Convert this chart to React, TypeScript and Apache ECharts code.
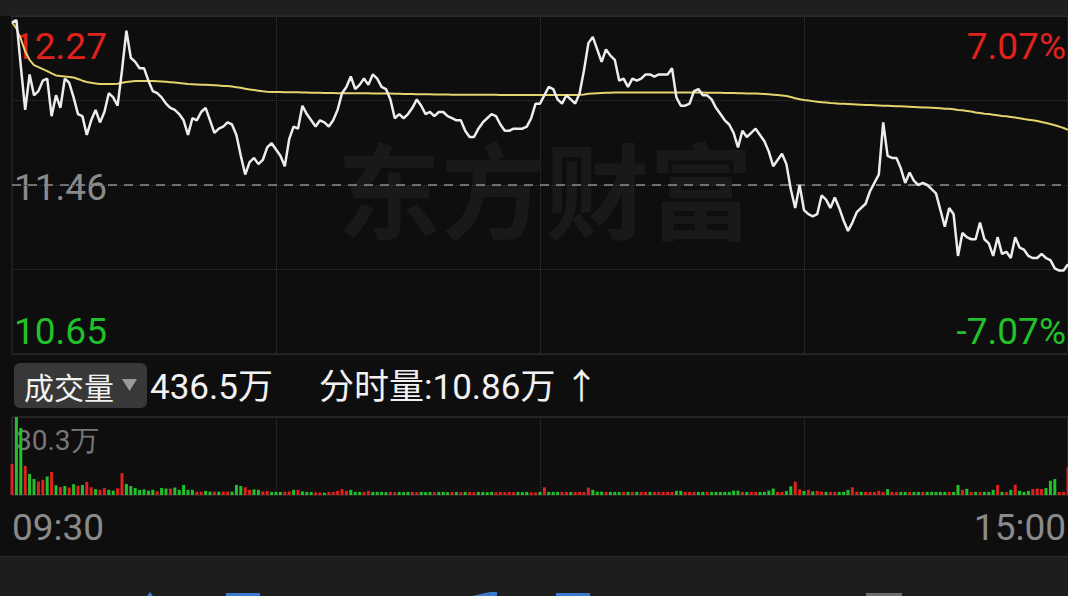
import React, { useEffect, useRef } from 'react';
import * as echarts from 'echarts';

// ---------- data ----------
const prices: number[] = [
  12.24, 12.25, 12.03, 11.82, 11.99, 11.89, 11.91, 11.96, 11.97, 11.79,
  11.89, 11.83, 11.97, 11.95, 11.88, 11.80, 11.79, 11.70, 11.77, 11.82,
  11.76, 11.81, 11.90, 11.88, 11.84, 12.01, 12.20, 12.07, 12.05, 12.02,
  12.02, 11.96, 11.91, 11.90, 11.88, 11.85, 11.83, 11.82, 11.80, 11.77,
  11.70, 11.78, 11.77, 11.81, 11.83, 11.77, 11.71, 11.73, 11.74, 11.76,
  11.75, 11.70, 11.60, 11.51, 11.57, 11.59, 11.56, 11.58, 11.64, 11.66,
  11.63, 11.60, 11.55, 11.68, 11.74, 11.73, 11.84, 11.80, 11.77, 11.74,
  11.77, 11.76, 11.74, 11.77, 11.82, 11.90, 11.93, 11.98, 11.92, 11.94,
  11.97, 11.94, 11.99, 11.97, 11.93, 11.92, 11.87, 11.78, 11.80, 11.78,
  11.80, 11.83, 11.87, 11.84, 11.80, 11.81, 11.79, 11.81, 11.81, 11.79,
  11.78, 11.77, 11.77, 11.72, 11.69, 11.69, 11.73, 11.76, 11.78, 11.80,
  11.79, 11.75, 11.72, 11.72, 11.73, 11.73, 11.73, 11.74, 11.78, 11.85,
  11.85, 11.89, 11.93, 11.92, 11.87, 11.85, 11.89, 11.87, 11.85, 11.90,
  12.01, 12.14, 12.17, 12.11, 12.05, 12.11, 12.08, 12.06, 11.96, 11.97,
  11.93, 11.97, 11.96, 11.97, 11.99, 11.99, 11.98, 11.99, 11.99, 11.99,
  12.02, 11.88, 11.84, 11.84, 11.85, 11.91, 11.92, 11.89, 11.89, 11.87,
  11.83, 11.80, 11.77, 11.75, 11.71, 11.64, 11.72, 11.69, 11.71, 11.73,
  11.70, 11.67, 11.62, 11.55, 11.58, 11.61, 11.56, 11.44, 11.35, 11.46,
  11.34, 11.32, 11.31, 11.32, 11.41, 11.39, 11.35, 11.40, 11.35, 11.29,
  11.24, 11.28, 11.33, 11.35, 11.37, 11.43, 11.47, 11.51, 11.76, 11.60,
  11.59, 11.59, 11.54, 11.47, 11.52, 11.48, 11.46, 11.47, 11.46, 11.44,
  11.42, 11.34, 11.26, 11.35, 11.32, 11.12, 11.23, 11.21, 11.20, 11.20,
  11.28, 11.20, 11.18, 11.12, 11.21, 11.13, 11.14, 11.11, 11.21, 11.16,
  11.15, 11.12, 11.11, 11.11, 11.13, 11.11, 11.10, 11.06, 11.05, 11.05,
  11.08,
];

const avgPrices: number[] = [
  12.240, 12.210, 12.160, 12.100, 12.060, 12.035, 12.025, 12.015, 12.006, 11.995,
  11.985, 11.982, 11.980, 11.978, 11.975, 11.968, 11.960, 11.954, 11.950, 11.947,
  11.944, 11.944, 11.944, 11.944, 11.945, 11.950, 11.954, 11.956, 11.958, 11.958,
  11.958, 11.958, 11.958, 11.957, 11.956, 11.955, 11.953, 11.951, 11.949, 11.947,
  11.944, 11.943, 11.942, 11.941, 11.940, 11.939, 11.938, 11.937, 11.935, 11.934,
  11.932, 11.929, 11.926, 11.921, 11.918, 11.915, 11.912, 11.909, 11.907, 11.906,
  11.906, 11.906, 11.905, 11.905, 11.904, 11.904, 11.903, 11.903, 11.902, 11.902,
  11.902, 11.901, 11.901, 11.901, 11.900, 11.900, 11.900, 11.900, 11.900, 11.900,
  11.900, 11.900, 11.899, 11.899, 11.899, 11.898, 11.898, 11.897, 11.897, 11.896,
  11.896, 11.896, 11.895, 11.895, 11.895, 11.895, 11.894, 11.894, 11.894, 11.894,
  11.893, 11.893, 11.893, 11.893, 11.892, 11.892, 11.892, 11.892, 11.892, 11.892,
  11.892, 11.891, 11.891, 11.891, 11.891, 11.891, 11.891, 11.891, 11.891, 11.891,
  11.891, 11.891, 11.891, 11.891, 11.891, 11.891, 11.891, 11.891, 11.891, 11.892,
  11.894, 11.897, 11.899, 11.900, 11.901, 11.902, 11.902, 11.903, 11.903, 11.903,
  11.903, 11.903, 11.903, 11.903, 11.903, 11.903, 11.903, 11.903, 11.903, 11.903,
  11.903, 11.903, 11.903, 11.903, 11.903, 11.903, 11.903, 11.903, 11.902, 11.902,
  11.902, 11.902, 11.901, 11.901, 11.901, 11.900, 11.900, 11.899, 11.898, 11.898,
  11.897, 11.896, 11.895, 11.893, 11.891, 11.889, 11.887, 11.882, 11.876, 11.871,
  11.867, 11.865, 11.862, 11.859, 11.857, 11.855, 11.853, 11.852, 11.850, 11.849,
  11.848, 11.847, 11.846, 11.845, 11.844, 11.843, 11.842, 11.841, 11.840, 11.840,
  11.839, 11.838, 11.837, 11.836, 11.835, 11.834, 11.833, 11.832, 11.831, 11.830,
  11.829, 11.828, 11.826, 11.825, 11.823, 11.820, 11.818, 11.815, 11.812, 11.808,
  11.805, 11.802, 11.800, 11.797, 11.794, 11.791, 11.789, 11.786, 11.783, 11.780,
  11.776, 11.773, 11.770, 11.767, 11.762, 11.757, 11.752, 11.746, 11.740, 11.733,
  11.725,
];

// volume in 万 shares
const volumes: number[] = [
  12.0, 30.3, 26.0, 11.3, 8.2, 6.2, 5.2, 5.9, 7.2, 9.0,
  3.8, 3.1, 3.5, 2.9, 4.2, 3.6, 3.9, 5.1, 3.0, 2.3,
  2.0, 2.7, 2.0, 1.7, 2.6, 8.5, 4.3, 3.5, 2.7, 2.0,
  2.2, 1.7, 2.0, 1.4, 2.7, 2.5, 2.5, 2.9, 2.0, 3.9,
  2.0, 2.0, 1.3, 1.3, 1.6, 1.3, 1.3, 1.3, 1.3, 1.3,
  1.3, 3.9, 3.5, 3.0, 2.0, 2.2, 2.0, 1.4, 1.6, 1.2,
  1.2, 1.2, 1.3, 1.4, 2.0, 2.0, 1.4, 1.2, 1.2, 1.0,
  1.0, 0.9, 1.2, 1.2, 1.6, 2.3, 1.6, 2.0, 1.2, 1.2,
  1.2, 1.6, 1.2, 1.2, 1.2, 1.1, 1.2, 1.1, 1.2, 1.1,
  1.2, 1.2, 1.1, 1.2, 1.1, 1.2, 1.1, 1.2, 1.2, 1.1,
  1.2, 1.2, 1.1, 1.2, 1.2, 1.1, 1.2, 1.2, 1.1, 1.2,
  1.1, 1.2, 1.1, 1.2, 1.1, 1.2, 1.1, 1.2, 1.0, 1.0,
  1.2, 3.0, 1.2, 1.2, 1.2, 1.2, 1.2, 1.2, 1.2, 1.2,
  1.2, 2.9, 2.0, 1.3, 1.3, 1.2, 1.2, 1.2, 1.2, 1.2,
  1.2, 1.2, 1.2, 1.2, 1.2, 1.2, 1.2, 1.2, 1.2, 1.2,
  1.2, 1.6, 1.6, 1.2, 1.2, 1.2, 1.2, 1.2, 1.2, 1.2,
  1.2, 1.2, 1.2, 1.2, 1.7, 1.7, 1.2, 1.2, 1.2, 1.2,
  1.2, 1.2, 1.7, 2.5, 1.2, 1.2, 1.6, 3.4, 5.2, 2.2,
  1.6, 2.0, 1.4, 1.6, 1.3, 1.2, 1.2, 1.2, 1.2, 1.2,
  2.0, 3.0, 1.3, 1.2, 1.2, 1.2, 1.2, 1.6, 1.2, 2.3,
  1.2, 1.2, 1.2, 1.2, 1.2, 1.2, 1.2, 1.2, 1.2, 1.2,
  1.2, 1.2, 1.2, 1.2, 1.2, 3.9, 2.0, 2.4, 1.2, 1.2,
  1.2, 1.2, 1.2, 2.0, 3.9, 1.2, 1.2, 2.0, 4.0, 1.6,
  1.2, 1.6, 2.3, 2.5, 2.3, 2.7, 5.5, 6.2, 1.2, 1.2,
  10.8,
];

// r = up (red), g = down (green)
const volumeSides: string[] = [
  'rggrggrrgr', 'grgrgrgrrg', 'rrggrrgggg', 'gggrggrggg', 'ggrrggrgrr',
  'gggrrggrrg', 'ggrrgrgggr', 'rgrrrrrggg', 'rrggggrrgg', 'grrgggrggg',
  'rgrgrrgggg', 'rrrrrgggrr', 'grgggrrgrr', 'rrgggrgggr', 'grgrrgrrrr',
  'rggrrrggrg', 'ggggggrgrr', 'ggggrrggrr', 'grgrrgrrgg', 'grrgrrrrrg',
  'rrggrggrgg', 'gggrggrgrg', 'rgggrgrgrg', 'ggrrrgggrr', 'r',
];

const prevClose = 11.46;
const priceMax = 12.27;
const priceMin = 10.65;
const priceLabels = ['12.27', '11.46', '10.65'];
const pctLabels = ['7.07%', '-7.07%'];
const timeLabels = ['09:30', '15:00'];
const volumeMax = 30.3;
const volumeMaxLabel = '30.3万';
const volumeTitle = '成交量';
const totalVolumeLabel = '436.5万';
const minuteVolumeLabel = '分时量:10.86万 ↑';
const watermark = '东方财富';

function buildTimes(): string[] {
  const out: string[] = [];
  const push = (h: number, m: number) =>
    out.push(`${String(h).padStart(2, '0')}:${String(m).padStart(2, '0')}`);
  for (let t = 9 * 60 + 30; t <= 11 * 60 + 30; t++) push(Math.floor(t / 60), t % 60);
  for (let t = 13 * 60 + 1; t <= 15 * 60; t++) push(Math.floor(t / 60), t % 60);
  return out;
}

const RED = '#e0211d';
const GREEN = '#22c02a';
const NUM_FONT = 'Roboto, "Noto Sans", sans-serif';
const CJK_FONT = '"Noto Sans CJK SC", "Noto Sans", sans-serif';
const MIX_FONT = 'Roboto, "Noto Sans CJK SC", sans-serif';

export default function App() {
  const ref = useRef<HTMLDivElement>(null);

  useEffect(() => {
    if (!ref.current) return;
    const chart = echarts.init(ref.current, undefined, { renderer: 'svg' });
    const times = buildTimes();
    const sides = volumeSides.join('').split('');

    const gridLine = { color: '#363636', type: 'dotted' as const, width: 1 };

    const option: any = {
      animation: false,
      backgroundColor: '#0e0e0e',
      grid: [
        { left: 12, top: 16, width: 1056, height: 338, show: true, borderColor: '#2f2f2f', borderWidth: 1, backgroundColor: 'transparent' },
        { left: 12, top: 417, width: 1056, height: 78, show: true, borderColor: '#3a3a3a', borderWidth: 1, backgroundColor: 'transparent' },
      ],
      xAxis: [0, 1].map((g) => ({
        type: 'category',
        gridIndex: g,
        data: times,
        boundaryGap: false,
        axisLine: { show: false },
        axisTick: { show: false },
        axisLabel: { show: false },
        splitLine: {
          show: true,
          interval: (i: number) => i % 60 === 0 && i > 0 && i < 240,
          lineStyle: gridLine,
        },
      })),
      yAxis: [
        { type: 'value', gridIndex: 0, min: priceMin, max: priceMax, axisLabel: { show: false }, axisLine: { show: false }, axisTick: { show: false }, splitLine: { show: false } },
        { type: 'value', gridIndex: 0, min: 0, max: 4, interval: 1, axisLabel: { show: false }, axisLine: { show: false }, axisTick: { show: false }, splitLine: { show: true, lineStyle: gridLine } },
        { type: 'value', gridIndex: 1, min: 0, max: volumeMax, axisLabel: { show: false }, axisLine: { show: false }, axisTick: { show: false }, splitLine: { show: false } },
      ],
      series: [
        {
          name: '价格',
          type: 'line',
          xAxisIndex: 0,
          yAxisIndex: 0,
          data: prices,
          showSymbol: false,
          symbol: 'none',
          lineStyle: { color: '#ededed', width: 2.5 },
          z: 5,
          markLine: {
            silent: true,
            symbol: 'none',
            label: { show: false },
            lineStyle: { color: '#8e8e8e', type: [9, 7], width: 1.5 },
            data: [{ yAxis: prevClose }],
          },
        },
        {
          name: '均价',
          type: 'line',
          xAxisIndex: 0,
          yAxisIndex: 0,
          data: avgPrices,
          showSymbol: false,
          symbol: 'none',
          lineStyle: { color: '#e5d36c', width: 2 },
          z: 4,
        },
        {
          name: '成交量',
          type: 'bar',
          xAxisIndex: 1,
          yAxisIndex: 2,
          barWidth: 3,
          data: volumes.map((v, i) => ({
            value: v,
            itemStyle: { color: sides[i] === 'r' ? RED : GREEN },
          })),
          z: 5,
        },
      ],
      graphic: [
        { type: 'rect', shape: { x: 0, y: 0, width: 1068, height: 16 }, style: { fill: '#1f1f1f' }, z: -10 },
        { type: 'rect', shape: { x: 0, y: 556, width: 1068, height: 40 }, style: { fill: '#1d1d1d' }, z: -10 },
        { type: 'line', shape: { x1: 0, y1: 556.5, x2: 1068, y2: 556.5 }, style: { stroke: '#2c2c2c', lineWidth: 1 }, z: -9 },
        { type: 'rect', shape: { x: 226, y: 593, width: 34, height: 3 }, style: { fill: '#3b79cf' }, z: -9 },
        { type: 'rect', shape: { x: 556, y: 593, width: 34, height: 3 }, style: { fill: '#3b79cf' }, z: -9 },
        { type: 'polygon', shape: { points: [[147, 596], [150, 592], [153, 596]] }, style: { fill: '#3b79cf' }, z: -9 },
        { type: 'polygon', shape: { points: [[472, 596], [490, 592], [497, 592], [497, 596]] }, style: { fill: '#3b79cf' }, z: -9 },
        { type: 'rect', shape: { x: 866, y: 593, width: 36, height: 3 }, style: { fill: '#6b6b6b' }, z: -9 },
        {
          type: 'text', x: 545, y: 186, z: -5,
          style: { text: watermark, fill: '#191919', font: `bold 104px ${CJK_FONT}`, textAlign: 'center', textVerticalAlign: 'middle' },
        },
        { type: 'text', x: 14, y: 46, z: -4, style: { text: priceLabels[0], fill: RED, font: `37px ${NUM_FONT}`, textAlign: 'left', textVerticalAlign: 'middle' } },
        { type: 'text', x: 14, y: 187, z: -4, style: { text: priceLabels[1], fill: '#8a8a8a', font: `37px ${NUM_FONT}`, textAlign: 'left', textVerticalAlign: 'middle' } },
        { type: 'text', x: 14, y: 331, z: -4, style: { text: priceLabels[2], fill: GREEN, font: `37px ${NUM_FONT}`, textAlign: 'left', textVerticalAlign: 'middle' } },
        { type: 'text', x: 1066, y: 46, z: -4, style: { text: pctLabels[0], fill: RED, font: `37px ${NUM_FONT}`, textAlign: 'right', textVerticalAlign: 'middle' } },
        { type: 'text', x: 1066, y: 331, z: -4, style: { text: pctLabels[1], fill: GREEN, font: `37px ${NUM_FONT}`, textAlign: 'right', textVerticalAlign: 'middle' } },
        { type: 'rect', shape: { x: 14, y: 363, width: 133, height: 45, r: 6 }, style: { fill: '#383838' }, z: -4 },
        { type: 'text', x: 24, y: 386, z: -3, style: { text: volumeTitle, fill: '#f2f2f2', font: `30px ${CJK_FONT}`, textAlign: 'left', textVerticalAlign: 'middle' } },
        { type: 'polygon', shape: { points: [[122, 379], [137, 379], [129.5, 391]] }, style: { fill: '#9a9a9a' }, z: -3 },
        { type: 'text', x: 150, y: 387, z: -3, style: { text: totalVolumeLabel, fill: '#f2f2f2', font: `35px ${MIX_FONT}`, textAlign: 'left', textVerticalAlign: 'middle' } },
        { type: 'text', x: 319, y: 387, z: -3, style: { text: minuteVolumeLabel, fill: '#f2f2f2', font: `35px ${MIX_FONT}`, textAlign: 'left', textVerticalAlign: 'middle' } },
        { type: 'text', x: 16, y: 440, z: -3, style: { text: volumeMaxLabel, fill: '#777777', font: `28px ${NUM_FONT}`, textAlign: 'left', textVerticalAlign: 'middle' } },
        { type: 'text', x: 12, y: 527, z: -3, style: { text: timeLabels[0], fill: '#8a8a8a', font: `37px ${NUM_FONT}`, textAlign: 'left', textVerticalAlign: 'middle' } },
        { type: 'text', x: 1066, y: 527, z: -3, style: { text: timeLabels[1], fill: '#8a8a8a', font: `37px ${NUM_FONT}`, textAlign: 'right', textVerticalAlign: 'middle' } },
      ],
    };

    chart.setOption(option);
    return () => chart.dispose();
  }, []);

  return (
    <div
      ref={ref}
      style={{ position: 'fixed', left: 0, top: 0, width: 1068, height: 596, background: '#0e0e0e' }}
    />
  );
}
